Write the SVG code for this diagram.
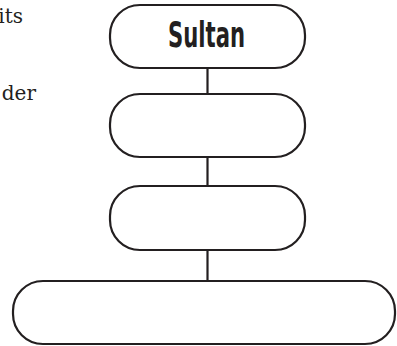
<svg xmlns="http://www.w3.org/2000/svg" width="397" height="346" viewBox="0 0 397 346">
  <style>
    .box { fill: #fff; stroke: #231f20; stroke-width: 2.2; }
    .link { stroke: #231f20; stroke-width: 2.2; fill: none; }
    .side { font-family: "DejaVu Serif", "Liberation Serif", serif; font-size: 20px; fill: #231f20; }
    .title { font-family: "DejaVu Sans Condensed", "DejaVu Sans", sans-serif; font-weight: bold; font-size: 35px; fill: #231f20; }
  </style>
  <rect width="397" height="346" fill="#fff"/>

  <!-- margin text cut at the left edge -->
  <text class="side" x="23" y="23" text-anchor="end">its</text>
  <text class="side" x="36" y="100" text-anchor="end">der</text>

  <g id="connectors">
    <line class="link" x1="207.5" y1="68" x2="207.5" y2="94"/>
    <line class="link" x1="207.5" y1="157" x2="207.5" y2="186"/>
    <line class="link" x1="207.5" y1="250" x2="207.5" y2="281"/>
  </g>

  <g id="sultan">
    <rect class="box" x="110" y="5" width="195" height="63" rx="30" ry="30"/>
    <text class="title" x="168" y="47" textLength="77" lengthAdjust="spacingAndGlyphs">Sultan</text>
  </g>
  <g id="level2">
    <rect class="box" x="110" y="94" width="195" height="63" rx="30" ry="30"/>
  </g>
  <g id="level3">
    <rect class="box" x="110" y="186" width="195" height="64" rx="30" ry="30"/>
  </g>
  <g id="level4">
    <rect class="box" x="13" y="281" width="382" height="63" rx="30" ry="30"/>
  </g>
</svg>
